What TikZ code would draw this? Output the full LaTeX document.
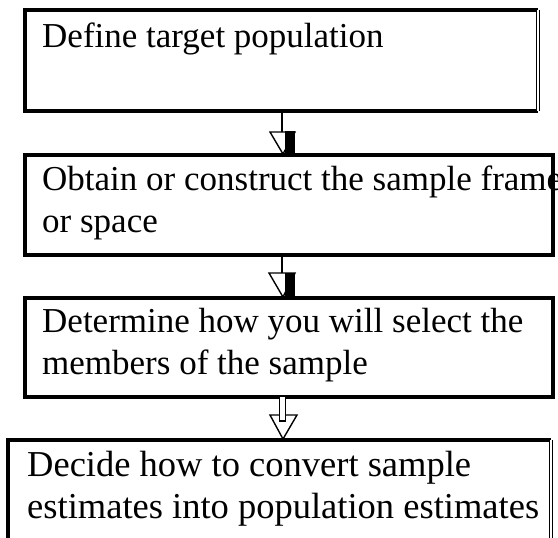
\documentclass[tikz,border=0pt]{standalone}
\usepackage{fontspec}
\setmainfont{Liberation Serif}
\begin{document}
\begin{tikzpicture}[x=1pt,y=-1pt,
  boxline/.style={line width=3.6pt},
  dblline/.style={line width=1.4pt,double distance=1.6pt},
  label/.style={anchor=base west,inner sep=0pt,font=\fontsize{35}{42}\selectfont},
  biglabel/.style={label,font=\fontsize{36.5}{42}\selectfont},
  stem/.style={line width=1.4pt},
  head/.style={line width=1.4pt,fill=white,line join=miter},
  blk/.style={fill=black}]
\useasboundingbox[fill=white] (0,0) rectangle (558,538);

% step boxes
\coordinate (b1nw) at (25,10);   \coordinate (b1se) at (538,111);
\coordinate (b2nw) at (25,155);  \coordinate (b2se) at (553,255);
\coordinate (b3nw) at (25,298);  \coordinate (b3se) at (553,397);
\coordinate (b4nw) at (8,440);   \coordinate (b4se) at (551,560);

\draw[boxline] (b1se) -- (b1nw |- b1se) -- (b1nw) -- (b1nw -| b1se);
\draw[dblline] (b1nw -| b1se) -- (b1se);
\draw[boxline] (b2nw) rectangle (b2se);
\draw[boxline] (b3nw) rectangle (b3se);
\draw[boxline] (b4se) -- (b4nw |- b4se) -- (b4nw) -- (b4nw -| b4se);
\draw[dblline] (b4nw -| b4se) -- (b4se);

% step texts, one node per line
\node[label] (t1)  at (42,47)  {Define target population};
\node[label] (t2a) at (42,190) {Obtain or construct the sample frame};
\node[label] (t2b) at (42,232) {or space};
\node[label] (t3a) at (42,332) {Determine how you will select the};
\node[label] (t3b) at (42,374) {members of the sample};
\node[biglabel] (t4a) at (27,476) {Decide how to convert sample};
\node[biglabel] (t4b) at (27,518) {estimates into population estimates};

% connector 1
\coordinate (a1top) at (282,111);
\coordinate (a1mid) at (282,132);
\draw[stem] (a1top) -- (a1mid);
\draw[head] (270,132) -- (295,132) -- (283,154) -- cycle;
\fill[blk] (285,131) rectangle (295,157);

% connector 2
\coordinate (a2top) at (282,255);
\coordinate (a2mid) at (282,273);
\draw[stem] (a2top) -- (a2mid);
\draw[head] (269,273) -- (295,273) -- (283,297) -- cycle;
\fill[blk] (285,273) rectangle (295,297);

% connector 3
\coordinate (a3top) at (282.5,397);
\draw[head] (270,415) -- (297,415) -- (283,439) -- cycle;
\draw[line width=1.2pt,fill=white] (279.5,397) -- (279.5,421) -- (285.5,421) -- (285.5,397);
\end{tikzpicture}
\end{document}
